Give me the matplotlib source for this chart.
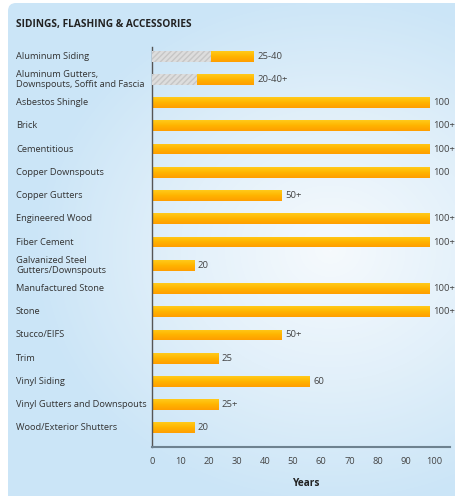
import numpy as np
import matplotlib
matplotlib.use("Agg")
import matplotlib.pyplot as plt
from matplotlib.patches import FancyBboxPatch
from matplotlib.colors import LinearSegmentedColormap

# values (bar lengths in axis units)
categories = [
    "Aluminum Siding",
    "Aluminum Gutters,\nDownspouts, Soffit and Fascia",
    "Asbestos Shingle",
    "Brick",
    "Cementitious",
    "Copper Downspouts",
    "Copper Gutters",
    "Engineered Wood",
    "Fiber Cement",
    "Galvanized Steel\nGutters/Downspouts",
    "Manufactured Stone",
    "Stone",
    "Stucco/EIFS",
    "Trim",
    "Vinyl Siding",
    "Vinyl Gutters and Downspouts",
    "Wood/Exterior Shutters",
]
range_low = [21, 16, 0, 0, 0, 0, 0, 0, 0, 0, 0, 0, 0, 0, 0, 0, 0]
years = [36, 36, 98.5, 98.5, 98.5, 98.5, 46, 98.5, 98.5, 15, 98.5, 98.5, 46, 23.5, 56, 23.5, 15]
value_labels = ["25-40", "20-40+", "100", "100+", "100+", "100", "50+", "100+", "100+",
                "20", "100+", "100+", "50+", "25", "60", "25+", "20"]
x_ticks = [0, 10, 20, 30, 40, 50, 60, 70, 80, 90, 100]

W, H = 456, 496
plt.rcParams["font.family"] = ["Open Sans", "DejaVu Sans"]
plt.rcParams["hatch.color"] = "#c4c4c4"
fig = plt.figure(figsize=(W / 100, H / 100), dpi=100)

# background panel with soft radial gradient
bg = fig.add_axes([0, 0, 1, 1])
bg.set_xlim(0, W); bg.set_ylim(H, 0); bg.axis("off")
yy, xx = np.mgrid[0:H, 0:W]
r = np.sqrt(((xx - 330) / 300.0) ** 2 + ((yy - 250) / 260.0) ** 2)
panel_cmap = LinearSegmentedColormap.from_list("panel", ["#f6fafd", "#e2f0fa", "#cbe5f7"])
img = bg.imshow(np.clip(r, 0, 1), cmap=panel_cmap, extent=(0, W, H, 0), vmin=0, vmax=1)
clip = FancyBboxPatch((8, 3), W + 20, H + 20, boxstyle="round,pad=0,rounding_size=8",
                      transform=bg.transData, facecolor="none", edgecolor="none")
bg.add_patch(clip)
img.set_clip_path(clip)
bg.text(16, 25, "SIDINGS, FLASHING & ACCESSORIES", fontsize=7.3, fontweight="bold",
        color="#222222", va="center", ha="left")

ax = fig.add_axes([152 / W, 1 - 447 / H, (450 - 152) / W, 400 / H])
ax.patch.set_alpha(0)
n = len(categories)
y = np.arange(n)

bar_cmap = LinearSegmentedColormap.from_list("bar", ["#ffca1a", "#ffb400", "#ff9e00"])
grad = np.linspace(0, 1, 32).reshape(-1, 1)
bars = ax.barh(y, years, height=0.47, color="#ffb000", edgecolor="none")
for b in bars:
    x0, y0 = b.get_x(), b.get_y()
    gi = ax.imshow(grad, cmap=bar_cmap, aspect="auto", interpolation="bilinear",
                   extent=(x0, x0 + b.get_width(), y0 + b.get_height(), y0), zorder=2)
    gi.set_clip_path(b)
ax.set_xlim(0, 105.7)
ax.set_ylim(n - 1 + 0.82, -0.39)

for i, lo in enumerate(range_low):
    if lo > 0:
        ax.barh(i, lo, height=0.47, color="#dddddd", edgecolor="#c6c6c6", hatch="//////",
                linewidth=0, zorder=3)

for i, (v, lab) in enumerate(zip(years, value_labels)):
    ax.text(v + 1.3, i, lab, fontsize=6.8, color="#444444", va="center", ha="left")

for i, c in enumerate(categories):
    ax.annotate(c, xy=(0, i), xycoords=("figure fraction", "data"), xytext=(16, 0),
                textcoords="offset pixels", fontsize=6.7, color="#333333",
                va="center", ha="left", linespacing=1.15)

ax.set_yticks([])
ax.set_xticks(x_ticks)
ax.set_xticklabels([str(t) for t in x_ticks], fontsize=6.7, color="#444444")
ax.tick_params(axis="x", length=0, pad=7)
for s in ["top", "right"]:
    ax.spines[s].set_visible(False)
ax.spines["left"].set_color("#555555")
ax.spines["bottom"].set_color("#6e8290")
ax.spines["left"].set_linewidth(1.0)
ax.spines["bottom"].set_linewidth(1.5)
ax.set_xlabel("Years", fontsize=7.3, fontweight="bold", color="#222222")
ax.xaxis.set_label_coords((306 - 152) / (450 - 152), -0.078)

fig.savefig("out.png", dpi=100)
